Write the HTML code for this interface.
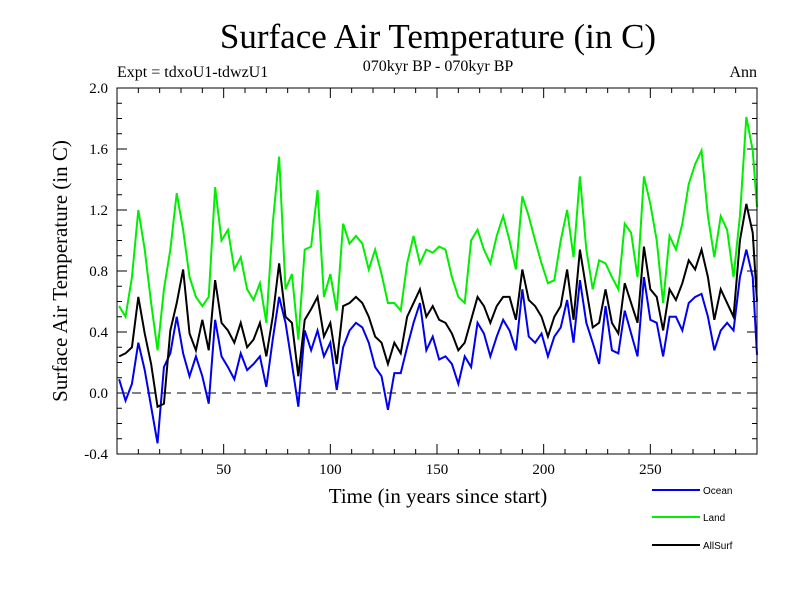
<!DOCTYPE html>
<html><head><meta charset="utf-8"><style>
body{margin:0;background:#fff}
svg{display:block}
text{font-family:"Liberation Serif",serif}
</style></head><body>
<svg id="c" width="800" height="600" viewBox="0 0 800 600">
<rect width="800" height="600" fill="#fff"/>
<text x="438" y="48" font-size="35" text-anchor="middle">Surface Air Temperature (in C)</text>
<text x="117" y="77" font-size="16">Expt = tdxoU1-tdwzU1</text>
<text x="438" y="71" font-size="16" text-anchor="middle">070kyr BP - 070kyr BP</text>
<text x="757" y="77" font-size="16" text-anchor="end">Ann</text>
<text x="438" y="503" font-size="21" text-anchor="middle">Time (in years since start)</text>
<text transform="translate(67,271) rotate(-90)" font-size="21" text-anchor="middle">Surface Air Temperature (in C)</text>
<g id="ticks"></g>
<g id="series"></g>
<rect x="117" y="88" width="640" height="366" fill="none" stroke="#000" stroke-width="1"/>
<g id="legend"></g>
</svg>
<script>
const years=[1,4,7,10,13,16,19,22,25,28,31,34,37,40,43,46,49,52,55,58,61,64,67,70,73,76,79,82,85,88,91,94,97,100,103,106,109,112,115,118,121,124,127,130,133,136,139,142,145,148,151,154,157,160,163,166,169,172,175,178,181,184,187,190,193,196,199,202,205,208,211,214,217,220,223,226,229,232,235,238,241,244,247,250,253,256,259,262,265,268,271,274,277,280,283,286,289,292,295,298,300];
const land=[0.57,0.5,0.76,1.2,0.94,0.59,0.28,0.68,0.94,1.31,1.07,0.76,0.63,0.57,0.63,1.35,1.0,1.07,0.81,0.89,0.68,0.61,0.72,0.46,1.11,1.55,0.68,0.78,0.35,0.94,0.96,1.33,0.63,0.78,0.54,1.11,0.98,1.03,0.98,0.81,0.94,0.78,0.59,0.59,0.54,0.85,1.03,0.85,0.94,0.92,0.96,0.94,0.76,0.63,0.59,1.0,1.07,0.94,0.85,1.03,1.16,1.0,0.81,1.29,1.16,1.0,0.85,0.72,0.74,1.0,1.2,0.89,1.42,0.94,0.68,0.87,0.85,0.76,0.68,1.11,1.05,0.76,1.42,1.24,1.0,0.59,1.03,0.94,1.11,1.37,1.5,1.59,1.16,0.89,1.16,1.07,0.76,1.16,1.81,1.59,1.22];
const allsurf=[0.24,0.26,0.3,0.63,0.39,0.19,-0.09,-0.07,0.41,0.59,0.81,0.39,0.28,0.48,0.28,0.74,0.46,0.41,0.33,0.46,0.3,0.35,0.46,0.24,0.5,0.85,0.5,0.46,0.11,0.48,0.55,0.63,0.37,0.46,0.19,0.57,0.59,0.63,0.59,0.5,0.37,0.33,0.19,0.33,0.26,0.5,0.59,0.68,0.5,0.57,0.48,0.46,0.39,0.28,0.33,0.48,0.63,0.57,0.46,0.57,0.63,0.63,0.48,0.81,0.61,0.57,0.5,0.37,0.5,0.57,0.81,0.48,0.94,0.68,0.43,0.46,0.68,0.46,0.39,0.72,0.59,0.46,0.96,0.68,0.63,0.41,0.68,0.61,0.72,0.87,0.81,0.94,0.76,0.48,0.68,0.59,0.5,1.0,1.24,1.05,0.6];
const ocean=[0.09,-0.05,0.06,0.33,0.15,-0.09,-0.33,0.17,0.26,0.5,0.26,0.11,0.24,0.11,-0.07,0.48,0.24,0.17,0.09,0.26,0.15,0.19,0.24,0.04,0.35,0.63,0.46,0.19,-0.09,0.41,0.28,0.41,0.24,0.33,0.02,0.3,0.41,0.46,0.43,0.33,0.17,0.11,-0.11,0.13,0.13,0.3,0.46,0.59,0.28,0.37,0.22,0.24,0.19,0.06,0.24,0.17,0.46,0.39,0.24,0.37,0.48,0.41,0.28,0.68,0.37,0.33,0.39,0.24,0.37,0.43,0.61,0.33,0.74,0.46,0.33,0.19,0.57,0.28,0.26,0.54,0.39,0.24,0.76,0.48,0.46,0.24,0.5,0.5,0.41,0.59,0.63,0.65,0.5,0.28,0.41,0.46,0.41,0.76,0.94,0.76,0.25];
const yTicks=[-0.4,0.0,0.4,0.8,1.2,1.6,2.0];
const yTickLabels=["-0.4","0.0","0.4","0.8","1.2","1.6","2.0"];
const xTicks=[50,100,150,200,250];
const NS='http://www.w3.org/2000/svg';
const X=v=>117+(v-0)*640/300;
const Y=v=>454-(v+0.4)*366/2.4;
function mk(tag,attrs,parent){const e=document.createElementNS(NS,tag);for(const k in attrs)e.setAttribute(k,attrs[k]);parent.appendChild(e);return e;}
const tg=document.getElementById('ticks');
for(let v=-0.4;v<=2.001;v+=0.1){const y=Y(v);const major=Math.abs(Math.round(v*10)%4)===0;const L=major?10:5;
 mk('line',{x1:117,x2:117+L,y1:y,y2:y,stroke:'#000'},tg);mk('line',{x1:757-L,x2:757,y1:y,y2:y,stroke:'#000'},tg);}
yTicks.forEach((v,i)=>{const t=mk('text',{x:108,y:Y(v)+5,'font-size':15,'text-anchor':'end'},tg);t.textContent=yTickLabels[i];

});
for(let v=10;v<300;v+=10){const x=X(v);const L=v%50===0?10:5;
 mk('line',{x1:x,x2:x,y1:454,y2:454-L,stroke:'#000'},tg);mk('line',{x1:x,x2:x,y1:88,y2:88+L,stroke:'#000'},tg);}
xTicks.forEach(v=>{const t=mk('text',{x:X(v),y:474,'font-size':15,'text-anchor':'middle'},tg);t.textContent=v;

});
const z=mk('line',{x1:117,x2:757,y1:Y(0),y2:Y(0),stroke:'#000','stroke-dasharray':'9,6'},tg);


const sg=document.getElementById('series');
const lg=document.getElementById('legend');
[['land',land,'#00ee00','Land',517],['ocean',ocean,'#0000ee','Ocean',490],['allsurf',allsurf,'#000','AllSurf',545]].forEach(([n,d,c,lab,ly])=>{
 const p=mk('polyline',{points:d.map((v,i)=>X(years[i])+','+Y(v)).join(' '),fill:'none',stroke:c,'stroke-width':2},sg);
 
 
 const l=mk('line',{x1:652,x2:700,y1:ly,y2:ly,stroke:c,'stroke-width':2},lg);
 
 
 const t=mk('text',{x:703,y:ly+4,'font-size':10,style:'font-family:"Liberation Sans",sans-serif'},lg);t.textContent=lab;
 
 
});
</script>
</body></html>
